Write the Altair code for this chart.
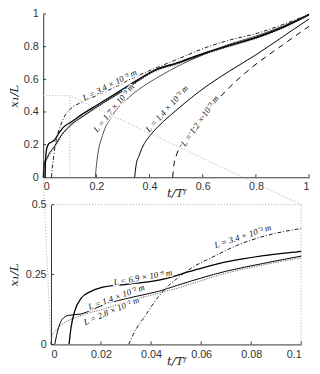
import altair as alt
import pandas as pd

# ---------------- data ----------------
# t/T^f and x1/L for each slab thickness L
T_28E2 = [0, 0.0003, 0.002, 0.0043, 0.008, 0.0121, 0.02, 0.033, 0.043, 0.05, 0.07, 0.085, 0.1,
          0.15, 0.2, 0.3, 0.43, 0.5, 0.616, 0.7, 0.8, 0.9, 1.0]
X_28E2 = [0, 0.03, 0.05, 0.071, 0.09, 0.104, 0.124, 0.16, 0.183, 0.2, 0.255, 0.285, 0.31,
          0.37, 0.425, 0.525, 0.655, 0.69, 0.758, 0.80, 0.85, 0.912, 0.993]

T_14E2 = [0.0015, 0.003, 0.0045, 0.007, 0.012, 0.016, 0.02, 0.033, 0.043, 0.05, 0.07, 0.085, 0.1,
          0.15, 0.2, 0.3, 0.43, 0.5, 0.616, 0.7, 0.8, 0.9, 1.0]
X_14E2 = [0, 0.06, 0.09, 0.104, 0.109, 0.122, 0.138, 0.17, 0.19, 0.21, 0.262, 0.29, 0.316,
          0.375, 0.43, 0.53, 0.66, 0.695, 0.762, 0.805, 0.853, 0.915, 0.995]

T_69E3 = [0.0072, 0.008, 0.0095, 0.012, 0.016, 0.02, 0.03, 0.043, 0.056, 0.07, 0.085, 0.1,
          0.15, 0.2, 0.3, 0.43, 0.5, 0.616, 0.7, 0.8, 0.9, 1.0]
X_69E3 = [0, 0.06, 0.12, 0.165, 0.19, 0.203, 0.215, 0.23, 0.262, 0.295, 0.318, 0.333,
          0.39, 0.44, 0.54, 0.665, 0.70, 0.767, 0.81, 0.857, 0.92, 0.998]

T_34E3 = [0.031, 0.034, 0.037, 0.0434, 0.047, 0.051, 0.0564, 0.064, 0.0759, 0.0863, 0.1,
          0.144, 0.2, 0.248, 0.346, 0.432, 0.5, 0.616, 0.7, 0.8, 0.9, 1.0]
X_34E3 = [0, 0.055, 0.094, 0.176, 0.211, 0.24, 0.275, 0.31, 0.36, 0.39, 0.415,
          0.46, 0.5, 0.535, 0.615, 0.675, 0.72, 0.797, 0.84, 0.88, 0.935, 0.998]

T_17E3 = [0.196, 0.2, 0.205, 0.223, 0.26, 0.321, 0.395, 0.45, 0.5, 0.6, 0.7, 0.8, 0.9, 1.0]
X_17E3 = [0, 0.07, 0.136, 0.256, 0.377, 0.487, 0.577, 0.63, 0.675, 0.75, 0.815, 0.865, 0.925, 0.997]

T_14E3 = [0.344, 0.35, 0.36, 0.371, 0.407, 0.432, 0.5, 0.616, 0.7, 0.8, 0.9, 1.0]
X_14E3 = [0, 0.08, 0.13, 0.176, 0.266, 0.31, 0.41, 0.56, 0.65, 0.75, 0.86, 0.97]

T_12E3 = [0.487, 0.492, 0.5, 0.518, 0.55, 0.6, 0.668, 0.7, 0.788, 0.9, 1.0]
X_12E3 = [0, 0.08, 0.13, 0.196, 0.27, 0.37, 0.497, 0.55, 0.677, 0.81, 0.925]

SERIES = [
    ("2.8e-2", T_28E2, X_28E2),
    ("1.4e-2", T_14E2, X_14E2),
    ("6.9e-3", T_69E3, X_69E3),
    ("3.4e-3", T_34E3, X_34E3),
    ("1.7e-3", T_17E3, X_17E3),
    ("1.4e-3", T_14E3, X_14E3),
    ("1.2e-3", T_12E3, X_12E3),
]

# curve labels
TOP_LBL_TEXT = ["L = 3.4 × 10⁻³ m", "L = 1.7 × 10⁻³ m", "L = 1.4 × 10⁻³ m", "L = 1.2 × 10⁻³ m"]
TOP_LBL_T = [0.25, 0.265, 0.465, 0.589]
TOP_LBL_X = [0.565, 0.425, 0.42, 0.345]
TOP_LBL_ANGLE = [333, 309, 312, 305]

BOT_LBL_TEXT = ["L = 6.9 × 10⁻³ m", "L = 1.4 × 10⁻² m", "L = 2.8 × 10⁻² m", "L = 3.4 × 10⁻³ m"]
BOT_LBL_T = [0.0367, 0.0261, 0.0241, 0.0766]
BOT_LBL_X = [0.240, 0.170, 0.120, 0.387]
BOT_LBL_ANGLE = [350, 340, 337, 342]

TOP_TICKS_T = [0, 0.2, 0.4, 0.6, 0.8, 1]
TOP_TICKS_X = [0, 0.2, 0.4, 0.6, 0.8, 1]
BOT_TICKS_T = [0, 0.02, 0.04, 0.06, 0.08, 0.1]
BOT_TICKS_X = [0, 0.25, 0.5]

ZOOM_T = [0, 0.1]
ZOOM_X = [0, 0.5]

# ---------------- styles / layout ----------------
STYLE = {
    "2.8e-2": dict(color="#444", width=1.0, dash=[1, 1.5]),
    "1.4e-2": dict(color="#000", width=1.0, dash=None),
    "6.9e-3": dict(color="#000", width=1.3, dash=None),
    "3.4e-3": dict(color="#000", width=0.9, dash=[4, 2, 1, 2]),
    "1.7e-3": dict(color="#222", width=0.8, dash=None),
    "1.4e-3": dict(color="#000", width=1.0, dash=None),
    "1.2e-3": dict(color="#000", width=1.0, dash=[6, 5]),
}

TOP_W, TOP_H = 272, 167
BOT_W, BOT_H = 256, 143
SPACING = 28
GUIDE = "#aaaaaa"
LBL_FONT = "Liberation Serif"
LBL_SIZE = 9


def panel(t_dom, x_dom, w, h, t_ticks, x_ticks, lbl_text, lbl_t, lbl_x, lbl_ang,
          title_x, xtitle_y, clip, extra):
    xs = alt.Scale(domain=t_dom, nice=False, zero=False)
    ys = alt.Scale(domain=x_dom, nice=False, zero=False)
    ax_x = alt.Axis(values=t_ticks, format=".2~f", ticks=False, grid=False, title="t/Tᶠ",
                    titleY=xtitle_y, labelPadding=4)
    ax_y = alt.Axis(values=x_ticks, format=".2~f", ticks=False, grid=False, title="x₁/L",
                    titleX=title_x, titleY=h / 2, titleAngle=270, titleBaseline="bottom",
                    titleAlign="center", labelPadding=5)
    X = lambda: alt.X("t:Q", scale=xs, axis=ax_x)
    Y = lambda: alt.Y("x:Q", scale=ys, axis=ax_y)

    layers = []
    # inward tick marks
    tx = pd.DataFrame({"t": t_ticks})
    layers.append(alt.Chart(tx).mark_rule(color="#333", strokeWidth=1).encode(
        x=X(), y=alt.value(h), y2=alt.value(h - 3)))
    ty = pd.DataFrame({"x": x_ticks})
    layers.append(alt.Chart(ty).mark_rule(color="#333", strokeWidth=1).encode(
        y=Y(), x=alt.value(0), x2=alt.value(3)))

    # dotted guides (zoom box sides / connectors)
    for gdf in extra:
        layers.append(alt.Chart(gdf).mark_rule(color=GUIDE, strokeDash=[1, 2], strokeWidth=1).encode(
            x=X(), y=Y(), x2="t2:Q", y2="x2:Q"))

    # curves
    for name, ts, vs in SERIES:
        df = pd.DataFrame({"t": ts, "x": vs})
        df = df[df.t <= t_dom[1] * 1.6]
        st = STYLE[name]
        kw = dict(color=st["color"], strokeWidth=st["width"], interpolate="monotone", clip=clip)
        if st["dash"]:
            kw["strokeDash"] = st["dash"]
        layers.append(alt.Chart(df).mark_line(**kw).encode(x=X(), y=Y()))

    # labels with white halo
    ldf = pd.DataFrame({"txt": lbl_text, "t": lbl_t, "x": lbl_x, "a": lbl_ang})
    layers.append(alt.Chart(ldf).mark_text(font=LBL_FONT, fontSize=LBL_SIZE, fontStyle="italic",
                                           color="white", stroke="white", strokeWidth=2.5,
                                           baseline="middle").encode(
        x=X(), y=Y(), text="txt:N", angle=alt.Angle("a:Q", scale=None)))
    layers.append(alt.Chart(ldf).mark_text(font=LBL_FONT, fontSize=LBL_SIZE, fontStyle="italic",
                                           color="#111", baseline="middle").encode(
        x=X(), y=Y(), text="txt:N", angle=alt.Angle("a:Q", scale=None)))
    return alt.layer(*layers).properties(width=w, height=h)


# zoom rectangle (top and right sides)
rect_df = pd.DataFrame({
    "t": [ZOOM_T[0], ZOOM_T[1]], "x": [ZOOM_X[1], ZOOM_X[0]],
    "t2": [ZOOM_T[1], ZOOM_T[1]], "x2": [ZOOM_X[1], ZOOM_X[1]],
})
# connectors from the zoom rectangle to the lower panel's corners (in top-panel units)
dx = (TOP_W - BOT_W) / 2
conn_df = pd.DataFrame({
    "t": [ZOOM_T[0], ZOOM_T[1]],
    "x": [ZOOM_X[0], ZOOM_X[1]],
    "t2": [dx / TOP_W, (dx + BOT_W) / TOP_W],
    "x2": [-(SPACING + BOT_H) / TOP_H, -SPACING / TOP_H],
})

top = panel([0, 1], [0, 1], TOP_W, TOP_H, TOP_TICKS_T, TOP_TICKS_X,
            TOP_LBL_TEXT, TOP_LBL_T, TOP_LBL_X, TOP_LBL_ANGLE,
            title_x=-23, xtitle_y=11, clip=False, extra=[rect_df, conn_df])

bottom = panel(ZOOM_T, ZOOM_X, BOT_W, BOT_H, BOT_TICKS_T, BOT_TICKS_X,
               BOT_LBL_TEXT, BOT_LBL_T, BOT_LBL_X, BOT_LBL_ANGLE,
               title_x=-31, xtitle_y=12, clip=True, extra=[rect_df])

chart = alt.vconcat(top, bottom, spacing=SPACING, bounds="flush", center=True).properties(
    padding={"top": -4, "left": 0, "right": 0, "bottom": 0}
).configure_view(strokeWidth=0).configure_axis(
    labelFont="Liberation Sans", labelFontSize=11, labelColor="#333",
    domainColor="#333", domainWidth=1,
    titleFont="DejaVu Serif", titleFontStyle="italic", titleFontWeight="normal",
    titleFontSize=12, titleColor="#222",
)

chart.save("out.html", embed_options={"renderer": "svg", "actions": False})
